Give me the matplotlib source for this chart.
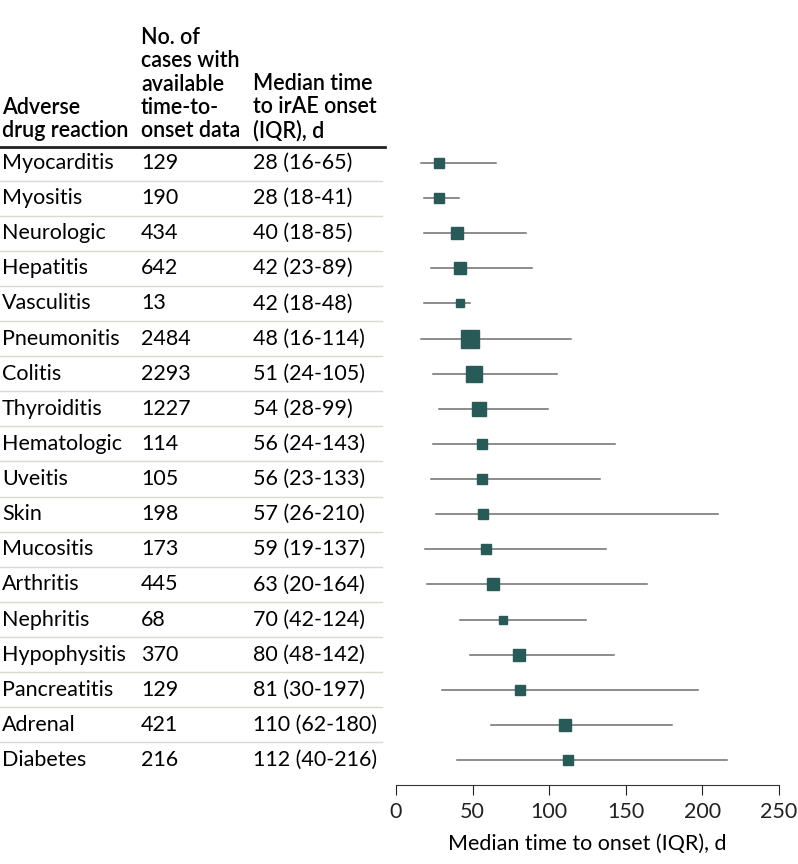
import matplotlib
matplotlib.use("Agg")
import numpy as np
from matplotlib import pyplot as plt
from matplotlib import transforms

plt.rcParams['font.family'] = ['Lato', 'DejaVu Sans']

reactions = ["Myocarditis", "Myositis", "Neurologic", "Hepatitis", "Vasculitis",
             "Pneumonitis", "Colitis", "Thyroiditis", "Hematologic", "Uveitis",
             "Skin", "Mucositis", "Arthritis", "Nephritis", "Hypophysitis",
             "Pancreatitis", "Adrenal", "Diabetes"]
n_cases = [129, 190, 434, 642, 13, 2484, 2293, 1227, 114, 105,
           198, 173, 445, 68, 370, 129, 421, 216]
median = [28, 28, 40, 42, 42, 48, 51, 54, 56, 56, 57, 59, 63, 70, 80, 81, 110, 112]
q1 = [16, 18, 18, 23, 18, 16, 24, 28, 24, 23, 26, 19, 20, 42, 48, 30, 62, 40]
q3 = [65, 41, 85, 89, 48, 114, 105, 99, 143, 133, 210, 137, 164, 124, 142, 197, 180, 216]

xticks = [0, 50, 100, 150, 200, 250]

W, H = 798, 864
FS = 15.5
fig = plt.figure(figsize=(W / 100, H / 100), dpi=100)
ax = fig.add_axes([396 / W, 1 - 785 / H, (779 - 396) / W, (785 - 147) / H])

MARK = "#285a58"
LINE = "#6e6e6e"

ypos = np.arange(len(reactions))
for y, m, lo, hi, n in zip(ypos, median, q1, q3, n_cases):
    ax.plot([lo, hi], [y, y], color=LINE, lw=1.1, zorder=1)
    side_px = 7.3 + 0.2 * np.sqrt(n)
    ax.plot(m, y, marker="s", color=MARK, ms=side_px * 0.72, mec=MARK, zorder=2)

ax.set_xlim(0, 250)
ax.set_ylim(17 + 25 / 35.1, -16 / 35.1)
for s in ["top", "right", "left"]:
    ax.spines[s].set_visible(False)
ax.spines["bottom"].set_color("#333333")
ax.set_yticks([])
ax.set_xticks(xticks)
ax.tick_params(axis="x", direction="out", length=7, labelsize=FS, colors="#222222", pad=5)
ax.set_xlabel("Median time to onset (IQR), d", fontsize=FS, labelpad=9)

# table part
tr = transforms.blended_transform_factory(fig.transFigure, ax.transData)
col_x = [2 / W, 141 / W, 253 / W]
for y, name, n, m, lo, hi in zip(ypos, reactions, n_cases, median, q1, q3):
    ax.text(col_x[0], y, name, transform=tr, fontsize=FS, va="center", ha="left")
    ax.text(col_x[1], y, str(n), transform=tr, fontsize=FS, va="center", ha="left")
    ax.text(col_x[2], y, f"{m} ({lo}-{hi})", transform=tr, fontsize=FS, va="center", ha="left")
    if y < len(reactions) - 1:
        ax.plot([0, 382 / W], [y + 0.5, y + 0.5], transform=tr, color="#d6dbd0",
                lw=1, clip_on=False)

ax.plot([0, 385 / W], [-16 / 35.1, -16 / 35.1], transform=tr, color="#222222",
        lw=2, clip_on=False)

hy = 1 - 141 / H
fig.text(col_x[0], hy, "Adverse\ndrug reaction", fontsize=FS, va="bottom",
         ha="left", weight="semibold", linespacing=1.13)
fig.text(col_x[1], hy, "No. of\ncases with\navailable\ntime-to-\nonset data", fontsize=FS,
         va="bottom", ha="left", weight="semibold", linespacing=1.13)
fig.text(col_x[2], hy, "Median time\nto irAE onset\n(IQR), d", fontsize=FS,
         va="bottom", ha="left", weight="semibold", linespacing=1.13)

fig.savefig("out.png", dpi=100)
